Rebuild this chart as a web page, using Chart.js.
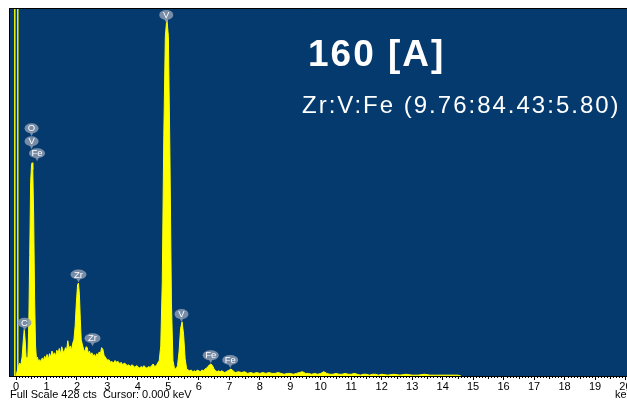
<!DOCTYPE html>
<html>
<head>
<meta charset="utf-8">
<script src="https://cdn.jsdelivr.net/npm/chart.js@4.4.1/dist/chart.umd.min.js"></script>
<style>
    html, body { margin: 0; padding: 0; background: #ffffff; }
    #spectrum { display: block; }
</style>
</head>
<body>
<canvas id="spectrum" width="627" height="400"></canvas>
<script>
// spectrum: energy (keV) and counts
const energies = [
    0.00, 0.04, 0.08, 0.12, 0.16, 0.20, 0.24, 0.27, 0.30, 0.33, 0.36, 0.39, 0.42, 0.45, 0.48, 0.51, 0.53, 0.55, 0.58, 0.61,
    0.64, 0.67, 0.70, 0.74, 0.78, 0.82, 0.86, 0.90, 0.94, 0.98, 1.02, 1.06, 1.10, 1.14, 1.18, 1.22, 1.26, 1.30, 1.34, 1.38,
    1.42, 1.46, 1.50, 1.54, 1.58, 1.62, 1.66, 1.70, 1.74, 1.78, 1.82, 1.86, 1.90, 1.94, 1.98, 2.02, 2.05, 2.08, 2.11, 2.14,
    2.18, 2.22, 2.26, 2.30, 2.34, 2.37, 2.41, 2.45, 2.49, 2.53, 2.57, 2.61, 2.65, 2.69, 2.73, 2.77, 2.81, 2.85, 2.89, 2.93,
    2.97, 3.01, 3.05, 3.10, 3.15, 3.20, 3.25, 3.30, 3.35, 3.40, 3.45, 3.50, 3.55, 3.60, 3.65, 3.70, 3.75, 3.80, 3.85, 3.90,
    3.95, 4.00, 4.05, 4.10, 4.15, 4.20, 4.25, 4.30, 4.35, 4.40, 4.45, 4.50, 4.55, 4.60, 4.65, 4.70, 4.75, 4.80, 4.85, 4.90,
    4.95, 5.00, 5.05, 5.10, 5.15, 5.20, 5.25, 5.30, 5.35, 5.40, 5.45, 5.50, 5.55, 5.60, 5.65, 5.70, 5.75, 5.80, 5.85, 5.90,
    5.95, 6.00, 6.05, 6.10, 6.15, 6.20, 6.25, 6.30, 6.35, 6.40, 6.45, 6.50, 6.55, 6.60, 6.65, 6.70, 6.75, 6.80, 6.85, 6.90,
    6.95, 7.00, 7.05, 7.10, 7.15, 7.20, 7.30, 7.40, 7.50, 7.60, 7.70, 7.80, 7.90, 8.00, 8.10, 8.20, 8.30, 8.40, 8.50, 8.60,
    8.70, 8.80, 8.90, 9.00, 9.10, 9.20, 9.30, 9.40, 9.50, 9.60, 9.70, 9.80, 9.90, 10.00, 10.10, 10.20, 10.30, 10.40, 10.50, 10.60,
    10.70, 10.80, 10.90, 11.00, 11.10, 11.20, 11.30, 11.40, 11.50, 11.60, 11.70, 11.80, 11.90, 12.00, 12.20, 12.40, 12.60, 12.80, 13.00, 13.20,
    13.40, 13.60, 13.80, 14.00, 14.20, 14.40, 14.50, 14.60,
];
const counts = [
    0, 6, 12, 15, 13, 22, 42, 54, 42, 22, 17, 22, 60, 140, 225, 246, 248, 240, 185, 90,
    36, 20, 22, 17, 19, 16, 21, 18, 23, 20, 25, 19, 26, 22, 29, 24, 27, 23, 30, 26,
    32, 25, 34, 29, 27, 33, 30, 41, 31, 35, 30, 38, 42, 58, 85, 106, 108, 95, 66, 42,
    36, 31, 28, 34, 33, 26, 29, 24, 27, 23, 25, 22, 26, 24, 28, 26, 33, 31, 24, 22,
    20, 18, 19, 16, 17, 15, 18, 16, 17, 14, 16, 13, 15, 14, 12, 13, 11, 13, 12, 10,
    12, 11, 9, 11, 10, 12, 10, 9, 11, 10, 12, 14, 11, 12, 15, 18, 35, 110, 280, 395,
    416, 395, 260, 85, 18, 9, 8, 12, 28, 55, 63, 48, 20, 8, 7, 6, 7, 5, 6, 5,
    7, 6, 5, 7, 6, 8, 9, 11, 13, 14, 12, 8, 6, 5, 6, 5, 6, 5, 4, 5,
    6, 7, 8, 7, 5, 4, 5, 4, 5, 3, 4, 3, 4, 3, 4, 3, 4, 3, 3, 4,
    3, 2, 3, 3, 2, 3, 4, 5, 3, 3, 2, 3, 2, 3, 5, 3, 2, 2, 3, 2,
    2, 3, 2, 2, 3, 2, 1, 2, 2, 1, 2, 2, 1, 2, 1, 2, 1, 2, 1, 1,
    2, 1, 1, 1, 1, 1, 1, 0,
];

// peak markers: element, energy (keV), height of the marker (counts)
const peakNames = ["V", "O", "V", "Fe", "C", "Zr", "Zr", "V", "Fe", "Fe"];
const peakEnergies = [4.93, 0.51, 0.51, 0.69, 0.28, 2.05, 2.51, 5.43, 6.39, 7.03];
const peakLevels = [420, 288, 273, 259, 62, 118, 44, 72, 24, 18.6];

const xTickValues = [0, 1, 2, 3, 4, 5, 6, 7, 8, 9, 10, 11, 12, 13, 14, 15, 16, 17, 18, 19, 20];
const fullScale = 428;
const cursorKeV = 0;

const titleText = "160 [A]";
const ratioText = "Zr:V:Fe (9.76:84.43:5.80)";
const statusText = "Full Scale 428 cts  Cursor: 0.000 keV";

const SPECTRUM_BG = "#053a6e";
const SPECTRUM_YELLOW = "#ffff00";
const FONT = "'Liberation Sans', Arial, sans-serif";

function drawBubble(ctx, cx, cy, text) {
    const w = text.length > 1 ? 16 : 14;
    const h = 10;
    ctx.fillStyle = "rgba(140, 155, 178, 0.85)";
    ctx.beginPath();
    ctx.ellipse(cx, cy, w / 2, h / 2, 0, 0, Math.PI * 2);
    ctx.fill();
    // little stem pointing at the peak
    ctx.beginPath();
    ctx.moveTo(cx - 2, cy + h / 2 - 1);
    ctx.lineTo(cx + 2, cy + h / 2 - 1);
    ctx.lineTo(cx, cy + h / 2 + 3);
    ctx.closePath();
    ctx.fill();
    ctx.fillStyle = "#ffffff";
    ctx.font = `9.5px ${FONT}`;
    ctx.textAlign = "center";
    ctx.textBaseline = "middle";
    ctx.fillText(text, cx, cy + 0.5);
}

const spectrumPlugin = {
    id: "spectrumDecor",
    beforeDraw(chart) {
        const { ctx, chartArea } = chart;
        ctx.save();
        ctx.fillStyle = "#ffffff";
        ctx.fillRect(0, 0, chart.width, chart.height);
        ctx.fillStyle = SPECTRUM_BG;
        ctx.fillRect(chartArea.left, chartArea.top, chartArea.right - chartArea.left, chartArea.bottom - chartArea.top);
        ctx.restore();
    },
    afterDatasetsDraw(chart) {
        const { ctx, chartArea } = chart;
        const xs = chart.scales.x;
        const ys = chart.scales.y;
        ctx.save();

        // cursor, drawn as a double line
        const cx = xs.getPixelForValue(cursorKeV);
        ctx.strokeStyle = SPECTRUM_YELLOW;
        ctx.lineWidth = 1.4;
        [-1.2, 1.8].forEach(off => {
            ctx.beginPath();
            ctx.moveTo(cx + off, chartArea.top);
            ctx.lineTo(cx + off, chartArea.bottom);
            ctx.stroke();
        });

        // frame on the left and top
        ctx.strokeStyle = "#000000";
        ctx.lineWidth = 1;
        ctx.beginPath();
        ctx.moveTo(chartArea.left + 0.5, chartArea.bottom);
        ctx.lineTo(chartArea.left + 0.5, chartArea.top + 0.5);
        ctx.lineTo(chartArea.right, chartArea.top + 0.5);
        ctx.stroke();

        peakNames.forEach((name, i) => {
            drawBubble(ctx, xs.getPixelForValue(peakEnergies[i]), ys.getPixelForValue(peakLevels[i]), name);
        });

        // minor ticks every 0.1 keV
        ctx.strokeStyle = "#000000";
        ctx.lineWidth = 1;
        for (let k = 0; k <= 200; k++) {
            if (k % 10 === 0) continue;
            const px = Math.round(xs.getPixelForValue(k / 10)) + 0.5;
            const len = k % 5 === 0 ? 3 : 2;
            ctx.beginPath();
            ctx.moveTo(px, chartArea.bottom);
            ctx.lineTo(px, chartArea.bottom + len);
            ctx.stroke();
        }

        ctx.fillStyle = "#ffffff";
        ctx.textAlign = "left";
        ctx.textBaseline = "alphabetic";
        if ("letterSpacing" in ctx) ctx.letterSpacing = "2px";
        ctx.font = `bold 37px ${FONT}`;
        ctx.fillText(titleText, 308, 66);
        ctx.font = `24px ${FONT}`;
        ctx.fillText(ratioText, 302, 113);
        if ("letterSpacing" in ctx) ctx.letterSpacing = "0px";

        ctx.fillStyle = "#000000";
        ctx.font = `11px ${FONT}`;
        ctx.fillText(statusText, 10, 398);
        ctx.fillText("keV", 615, 398);
        ctx.restore();
    },
};

function initSpectrum() {
    const el = document.getElementById("spectrum");
    const points = energies.map((e, i) => ({ x: e, y: counts[i] }));

    new Chart(el, {
        type: "line",
        data: {
            datasets: [{
                data: points,
                borderColor: SPECTRUM_YELLOW,
                backgroundColor: SPECTRUM_YELLOW,
                borderWidth: 1,
                fill: "origin",
                pointRadius: 0,
                tension: 0,
            }],
        },
        options: {
            responsive: false,
            animation: false,
            events: [],
            layout: { padding: { left: 9, top: 8, right: 0, bottom: 0 } },
            plugins: { legend: { display: false }, tooltip: { enabled: false } },
            scales: {
                x: {
                    type: "linear",
                    min: -0.23,
                    max: 20.05,
                    afterBuildTicks: (scale) => {
                        scale.ticks = xTickValues.map(v => ({ value: v }));
                    },
                    afterFit: (scale) => {
                        scale.height = 24;
                        scale.paddingLeft = 0;
                        scale.paddingRight = 0;
                    },
                    border: { display: true, color: "#000000", width: 1 },
                    grid: { drawOnChartArea: false, drawTicks: true, tickLength: 4, color: "#000000" },
                    ticks: {
                        color: "#000000",
                        font: { size: 11, family: FONT },
                        padding: 0,
                        maxRotation: 0,
                        autoSkip: false,
                        callback: (v) => `${v}`,
                    },
                },
                y: {
                    display: false,
                    min: 0,
                    max: fullScale,
                },
            },
        },
        plugins: [spectrumPlugin],
    });
}

initSpectrum();
</script>
</body>
</html>
